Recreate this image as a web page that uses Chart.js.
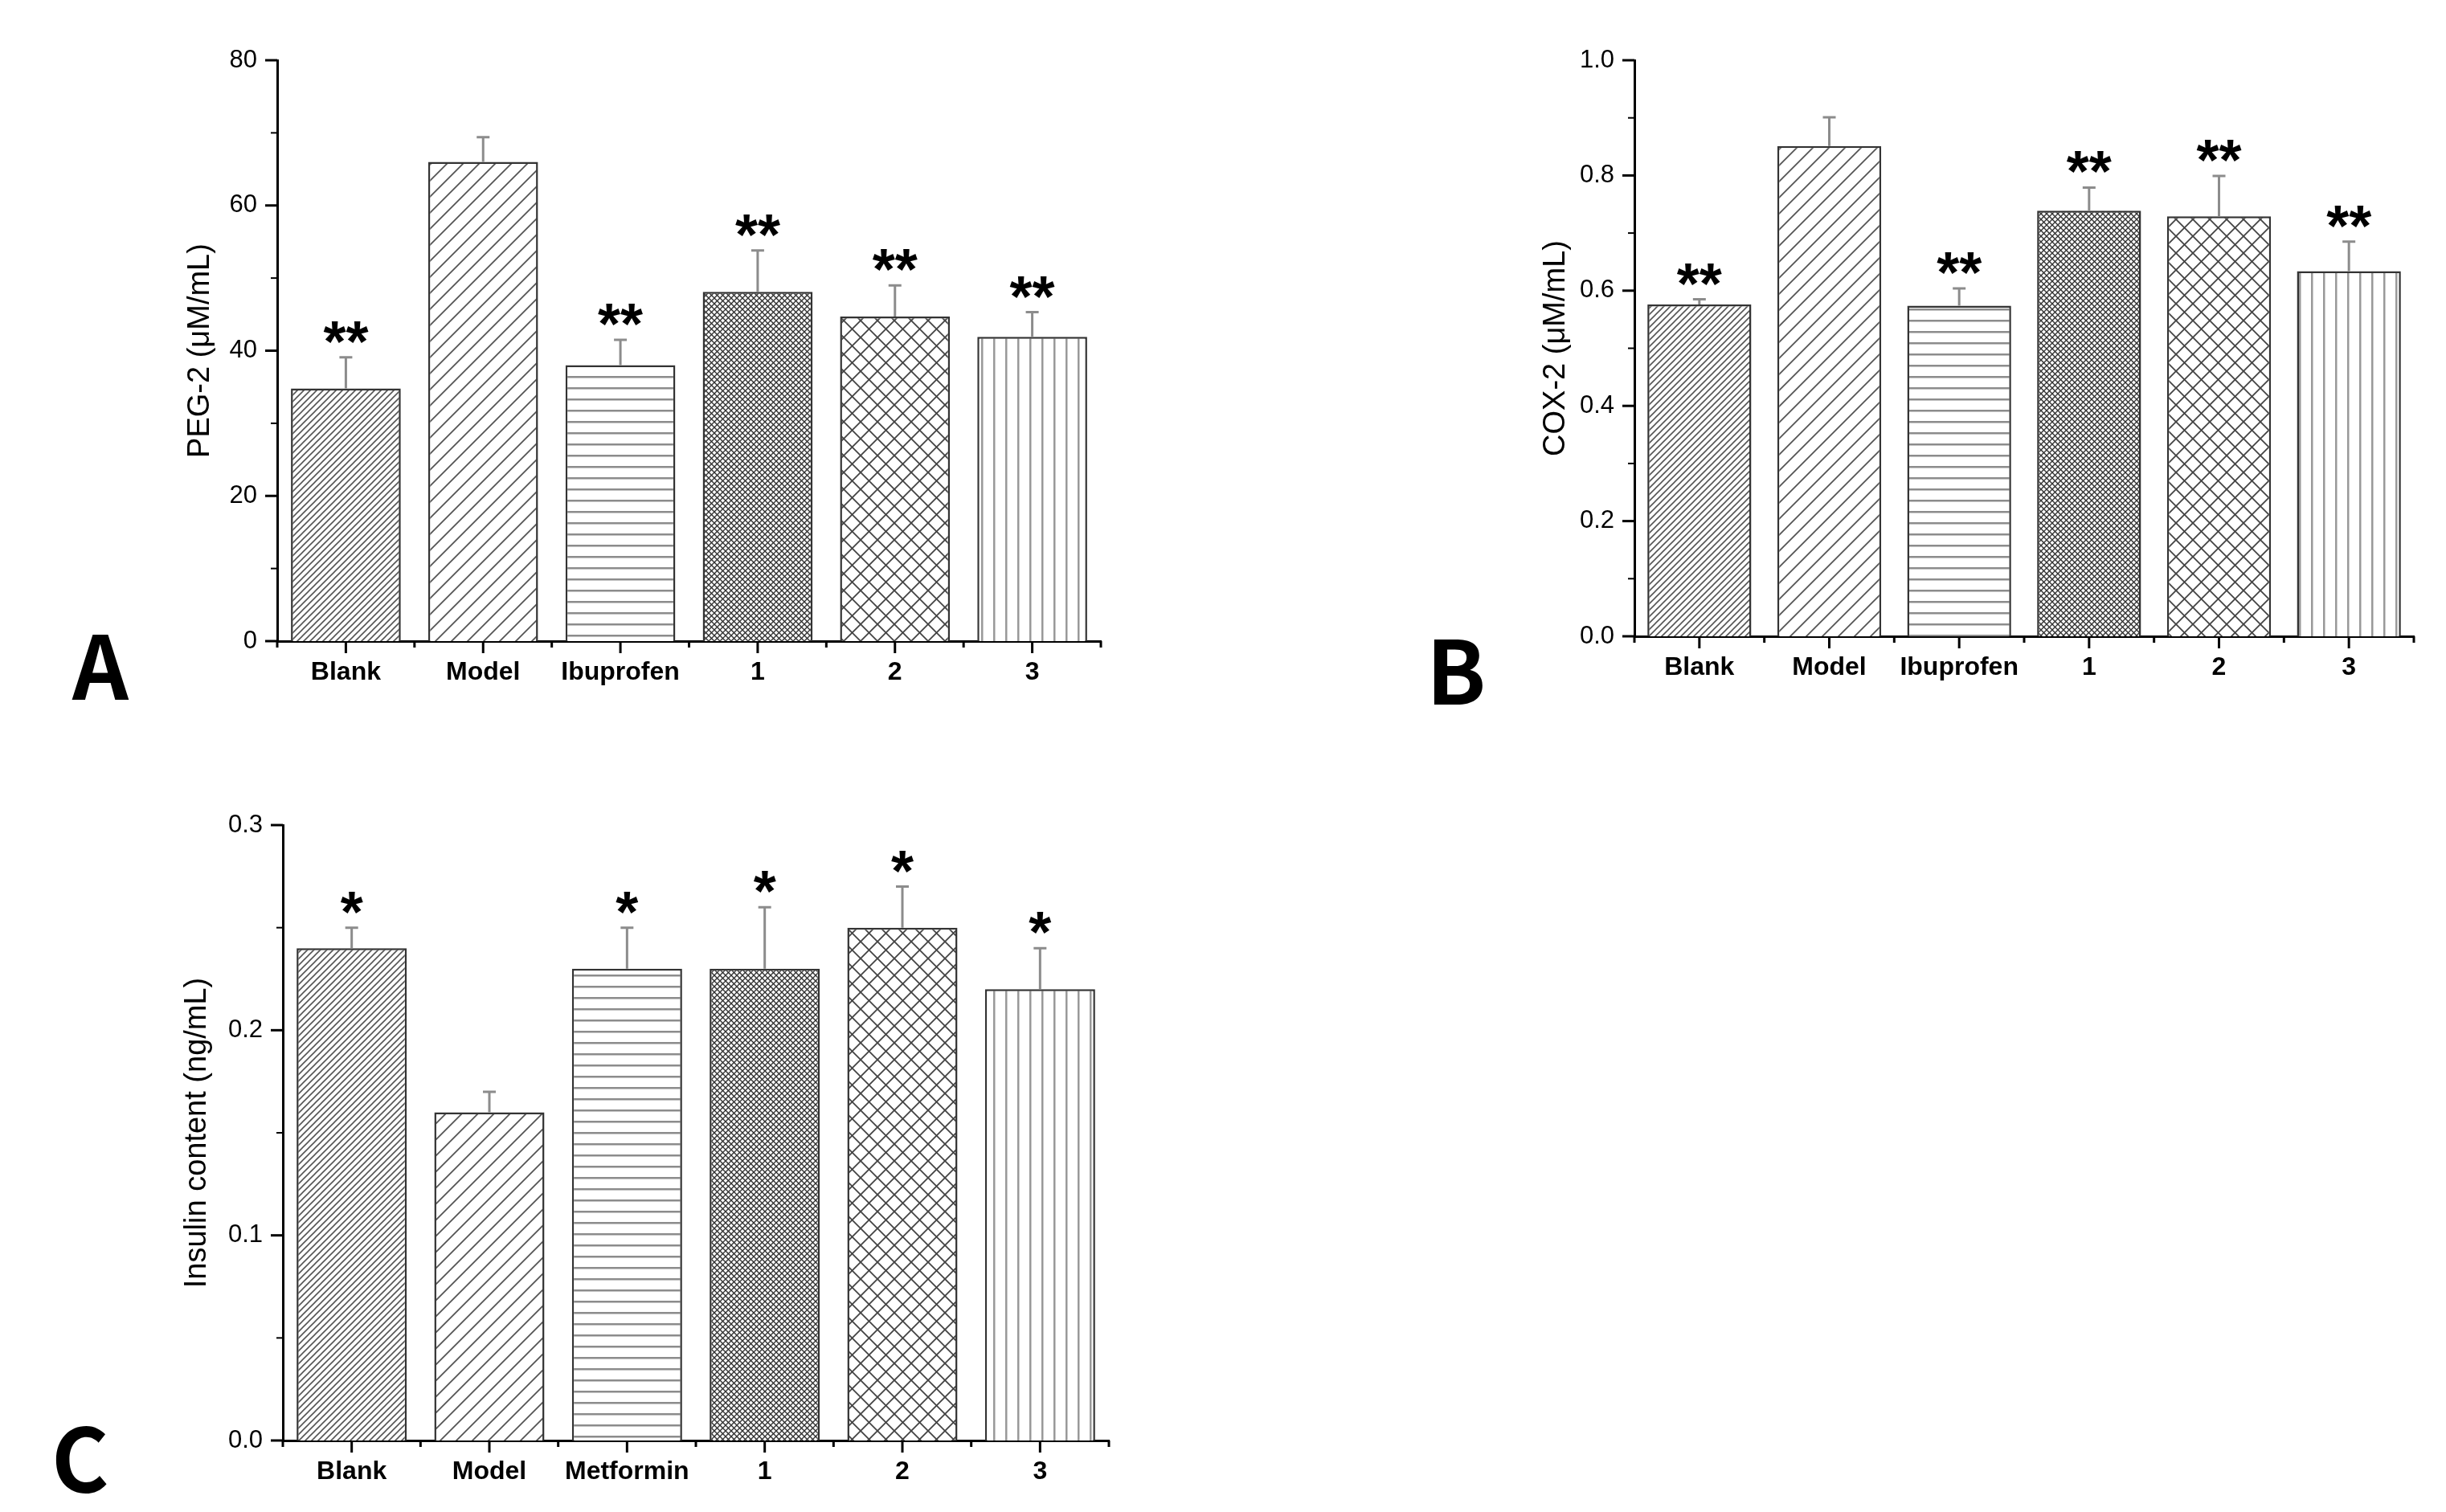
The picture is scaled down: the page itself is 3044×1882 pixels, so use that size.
<!DOCTYPE html>
<html>
<head>
<meta charset="utf-8">
<script src="https://cdn.jsdelivr.net/npm/chart.js@4"></script>
<style>
  body { margin: 0; background: #fff; }
  #page { position: relative; width: 3044px; height: 1882px; background: #fff; overflow: hidden; }
  #page canvas { position: absolute; }
  .tag { position: absolute; font: bold 109px 'Noto Sans CJK KR', 'Noto Sans', sans-serif; line-height: 109px; color: #000; }
</style>
</head>
<body>
<div id="page">
  <canvas id="chartA" width="1400" height="941" style="left:0;top:0"></canvas>
  <canvas id="chartB" width="1330" height="941" style="left:1700px;top:0"></canvas>
  <canvas id="chartC" width="1410" height="941" style="left:0;top:941px"></canvas>
  <div class="tag" style="left:90px;top:769px">A</div>
  <div class="tag" style="left:1775px;top:775px">B</div>
  <div class="tag" style="left:64px;top:1755px">C</div>
</div>
<script>
// groups
const groupsAB = ['Blank', 'Model', 'Ibuprofen', '1', '2', '3'];
const groupsC = ['Blank', 'Model', 'Metformin', '1', '2', '3'];

// A: PEG-2
const pegValues = [34.8, 66.0, 38.0, 48.1, 44.7, 41.9];
const pegErrors = [4.3, 3.4, 3.5, 5.7, 4.3, 3.4];
const pegMarks = ['**', '', '**', '**', '**', '**'];
const pegTicks = [0, 20, 40, 60, 80];

// B: COX-2
const coxValues = [0.576, 0.851, 0.574, 0.739, 0.729, 0.634];
const coxErrors = [0.009, 0.05, 0.03, 0.04, 0.07, 0.051];
const coxMarks = ['**', '', '**', '**', '**', '**'];
const coxTicks = [0.0, 0.2, 0.4, 0.6, 0.8, 1.0];

// C: insulin
const insulinValues = [0.24, 0.16, 0.23, 0.23, 0.25, 0.22];
const insulinErrors = [0.01, 0.01, 0.02, 0.03, 0.02, 0.02];
const insulinMarks = ['*', '', '*', '*', '*', '*'];
const insulinTicks = [0.0, 0.1, 0.2, 0.3];

const FONT = "'Liberation Sans', Arial, sans-serif";

// hatch fills, one per group
function hatch(size, draw) {
  const c = document.createElement('canvas');
  c.width = size; c.height = size;
  const g = c.getContext('2d');
  g.fillStyle = '#fff';
  g.fillRect(0, 0, size, size);
  draw(g, size);
  return g.createPattern(c, 'repeat');
}
function diag(g, s, color, w) {
  g.strokeStyle = color; g.lineWidth = w;
  g.beginPath();
  g.moveTo(0, s); g.lineTo(s, 0);
  g.moveTo(-s / 2, s / 2); g.lineTo(s / 2, -s / 2);
  g.moveTo(s / 2, s * 1.5); g.lineTo(s * 1.5, s / 2);
  g.stroke();
}
function cross(g, s, color, w) {
  diag(g, s, color, w);
  g.beginPath();
  g.moveTo(0, 0); g.lineTo(s, s);
  g.moveTo(-s / 2, s / 2); g.lineTo(s / 2, s * 1.5);
  g.moveTo(s / 2, -s / 2); g.lineTo(s * 1.5, s / 2);
  g.stroke();
}
const fills = [
  hatch(8, (g, s) => diag(g, s, '#555', 1.6)),
  hatch(20, (g, s) => diag(g, s, '#555', 1.8)),
  hatch(14, (g, s) => { g.fillStyle = '#8c8c8c'; g.fillRect(0, 6, s, 2.5); }),
  hatch(7, (g, s) => cross(g, s, '#333', 1.4)),
  hatch(21, (g, s) => cross(g, s, '#444', 1.8)),
  hatch(15, (g, s) => { g.fillStyle = '#999'; g.fillRect(6, 0, 2.5, s); })
];

// error bars, stars and tick marks
const panelMarks = {
  id: 'panelMarks',
  afterDatasetsDraw(chart, args, opts) {
    const ctx = chart.ctx;
    const ys = chart.scales.y;
    const meta = chart.getDatasetMeta(0);
    const vals = chart.data.datasets[0].data;
    ctx.save();
    meta.data.forEach((bar, i) => {
      const top = ys.getPixelForValue(vals[i]);
      const errTop = ys.getPixelForValue(vals[i] + opts.errors[i]);
      ctx.strokeStyle = '#8c8c8c';
      ctx.lineWidth = 3;
      ctx.beginPath();
      ctx.moveTo(bar.x, top); ctx.lineTo(bar.x, errTop);
      ctx.moveTo(bar.x - 8, errTop); ctx.lineTo(bar.x + 8, errTop);
      ctx.stroke();
      if (opts.marks[i]) {
        ctx.fillStyle = '#000';
        ctx.font = 'bold 72px ' + FONT;
        ctx.textAlign = 'center';
        ctx.textBaseline = 'alphabetic';
        const m = ctx.measureText(opts.marks[i]);
        ctx.fillText(opts.marks[i], bar.x, errTop - 18 - m.actualBoundingBoxDescent);
      }
    });
    ctx.restore();
  },
  afterDraw(chart, args, opts) {
    const ctx = chart.ctx;
    const ys = chart.scales.y, xs = chart.scales.x;
    const left = chart.chartArea.left, bottom = chart.chartArea.bottom;
    ctx.save();
    ctx.strokeStyle = '#000';
    ys.ticks.forEach(t => {
      const y = ys.getPixelForValue(t.value);
      const major = t.label !== '';
      ctx.lineWidth = major ? 3 : 2;
      ctx.beginPath();
      ctx.moveTo(left - (major ? 15 : 8), y); ctx.lineTo(left, y);
      ctx.stroke();
    });
    const n = chart.data.labels.length;
    ctx.lineWidth = 3;
    for (let i = 0; i < n; i++) {
      const x = xs.getPixelForValue(i);
      ctx.beginPath(); ctx.moveTo(x, bottom); ctx.lineTo(x, bottom + 15); ctx.stroke();
    }
    for (let i = 0; i <= n; i++) {
      const x = xs.getPixelForValue(i - 0.5);
      ctx.beginPath(); ctx.moveTo(x, bottom); ctx.lineTo(x, bottom + 8); ctx.stroke();
    }
    ctx.restore();
  }
};

function makePanel(id, p) {
  const isMajor = v => p.ticks.some(m => Math.abs(m - v) < 1e-9);
  new Chart(document.getElementById(id), {
    type: 'bar',
    data: {
      labels: p.labels,
      datasets: [{
        data: p.values,
        backgroundColor: fills,
        borderColor: '#333',
        borderWidth: 2.5,
        barPercentage: 0.8,
        categoryPercentage: 1
      }]
    },
    options: {
      responsive: false,
      animation: false,
      devicePixelRatio: 1,
      layout: { padding: { top: p.top, right: p.right, left: 0, bottom: 0 } },
      plugins: {
        legend: { display: false },
        tooltip: { enabled: false },
        panelMarks: { errors: p.errors, marks: p.marks }
      },
      scales: {
        x: {
          grid: { display: false, drawTicks: false },
          border: { display: true, color: '#000', width: 3 },
          ticks: {
            color: '#000', padding: 20, maxRotation: 0, autoSkip: false,
            font: { family: FONT, size: 32, weight: 'bold' }
          },
          afterFit: s => { s.height = p.xHeight; }
        },
        y: {
          min: p.ticks[0],
          max: p.ticks[p.ticks.length - 1],
          grid: { display: false, drawTicks: false },
          border: { display: true, color: '#000', width: 3 },
          ticks: {
            stepSize: p.minor, autoSkip: false, color: '#000', padding: 25,
            font: { family: FONT, size: 31 },
            callback: v => isMajor(v) ? v.toFixed(p.digits) : ''
          },
          title: {
            display: true, text: p.title, color: '#000',
            font: { family: FONT, size: 38 },
            padding: { top: p.titlePad, bottom: 0 }
          },
          afterFit: s => { s.width = p.yWidth; }
        }
      }
    },
    plugins: [panelMarks]
  });
}

makePanel('chartA', {
  labels: groupsAB, values: pegValues, errors: pegErrors, marks: pegMarks,
  ticks: pegTicks, minor: 10, digits: 0, title: 'PEG-2 (μM/mL)',
  top: 75, right: 30, xHeight: 143, yWidth: 345, titlePad: 227
});
makePanel('chartB', {
  labels: groupsAB, values: coxValues, errors: coxErrors, marks: coxMarks,
  ticks: coxTicks, minor: 0.1, digits: 1, title: 'COX-2 (μM/mL)',
  top: 75, right: 26, xHeight: 149, yWidth: 334, titlePad: 214
});
makePanel('chartC', {
  labels: groupsC, values: insulinValues, errors: insulinErrors, marks: insulinMarks,
  ticks: insulinTicks, minor: 0.05, digits: 1, title: 'Insulin content (ng/mL)',
  top: 86, right: 30, xHeight: 89, yWidth: 352, titlePad: 223
});
</script>
</body>
</html>
